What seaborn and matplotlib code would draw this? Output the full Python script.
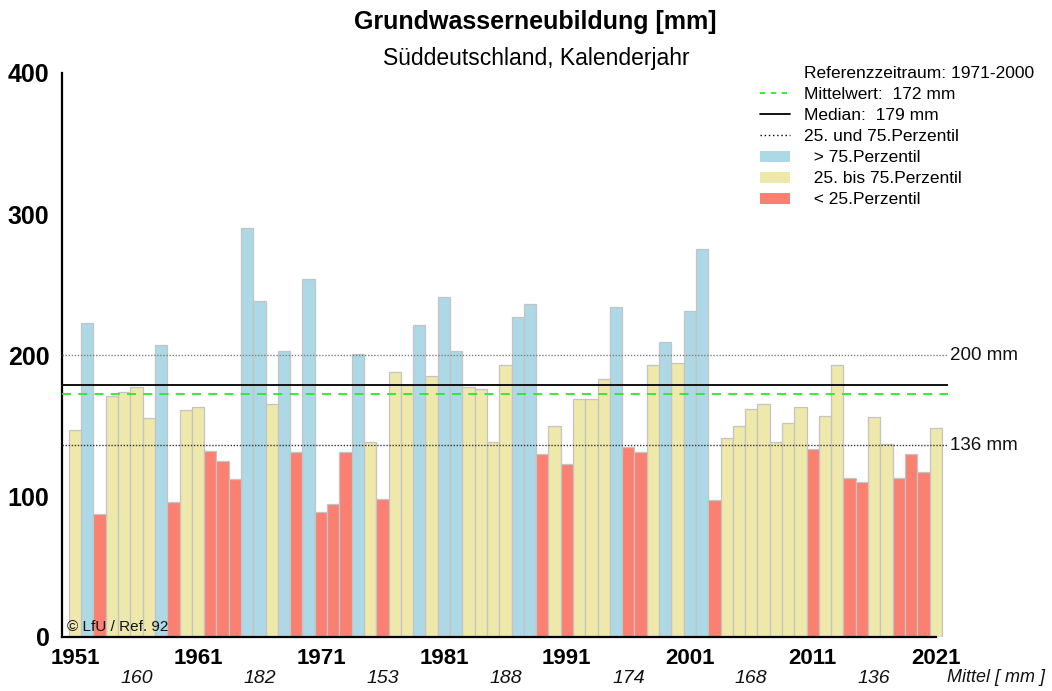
import numpy as np
import pandas as pd
import matplotlib
matplotlib.use("Agg")
import matplotlib.pyplot as plt
import matplotlib.transforms as mtransforms
from matplotlib.lines import Line2D
from matplotlib.patches import Patch
import seaborn as sns

# ---------------- data ----------------
years = list(range(1951, 2022))
values = [
    147, 223, 87, 171, 174, 177, 155, 207, 96, 161,      # 1951-1960
    163, 132, 125, 112, 290, 238, 165, 203, 131, 254,    # 1961-1970
    89, 94, 131, 201, 138, 98, 188, 179, 221, 185,       # 1971-1980
    241, 203, 177, 176, 138, 193, 227, 236, 130, 150,    # 1981-1990
    123, 169, 169, 183, 234, 135, 131, 193, 209, 194,    # 1991-2000
    231, 275, 97, 141, 150, 162, 165, 138, 152, 163,     # 2001-2010
    133, 157, 193, 113, 110, 156, 137, 113, 130, 117,    # 2011-2020
    148,                                                 # 2021
]
mean_ref = 172
median_ref = 179
p25 = 136
p75 = 200
decade_means = ["160", "182", "153", "188", "174", "168", "136"]
tick_years = [1951, 1961, 1971, 1981, 1991, 2001, 2011, 2021]

cls_high = "> 75.Perzentil"
cls_mid = "25. bis 75.Perzentil"
cls_low = "< 25.Perzentil"
palette = {cls_high: "#add8e6", cls_mid: "#eee8aa", cls_low: "#fa8072"}

def classify(v):
    if v > p75:
        return cls_high
    if v < p25:
        return cls_low
    return cls_mid

df = pd.DataFrame({"year": years, "value": values})
df["cls"] = df["value"].apply(classify)

# ---------------- figure ----------------
sns.set_style("white")
plt.rcParams["font.family"] = ["Liberation Sans", "DejaVu Sans"]
plt.rcParams["text.color"] = "black"
plt.rcParams["xtick.color"] = "black"
plt.rcParams["ytick.color"] = "black"
plt.rcParams["axes.labelcolor"] = "black"

fig = plt.figure(figsize=(10.52, 6.91), dpi=100)
ax = fig.add_axes([62 / 1052, 1 - 637 / 691, (948 - 62) / 1052, (637 - 73) / 691])

sns.barplot(data=df, x="year", y="value", hue="cls", order=years,
            palette=palette, saturation=1, dodge=False, width=1.0,
            edgecolor="#c4c4c4", linewidth=0.9, legend=False, ax=ax,
            errorbar=None, zorder=2)

ax.set_xlim(-1.06, 71.0)
ax.set_ylim(0, 400)

# reference lines
ax.axhline(p75, color="#808080", linestyle=(0, (1, 1.2)), linewidth=1.0, zorder=3)
ax.axhline(p25, color="#333333", linestyle=(0, (1, 1.2)), linewidth=1.0, zorder=3)
ax.axhline(median_ref, color="#111111", linestyle="-", linewidth=1.4, zorder=3)
ax.axhline(mean_ref, color="#22ee22", linestyle=(0, (5, 4)), linewidth=1.3, zorder=3)

trans_ay = mtransforms.blended_transform_factory(ax.transAxes, ax.transData)
ax.text(1.002, p75, f"{p75} mm", transform=trans_ay, ha="left", va="center",
        fontsize=13.5, color="#111111")
ax.text(1.002, p25, f"{p25} mm", transform=trans_ay, ha="left", va="center",
        fontsize=13.5, color="#111111")

# axes styling
for s in ["top", "right"]:
    ax.spines[s].set_visible(False)
for s in ["left", "bottom"]:
    ax.spines[s].set_color("black")
    ax.spines[s].set_linewidth(1.6)
ax.spines["bottom"].set_bounds(-1.06, 70)

ax.set_xticks([y - years[0] for y in tick_years])
ax.set_xticklabels([str(y) for y in tick_years], fontsize=16, fontweight="bold")
ax.set_yticks([0, 100, 200, 300, 400])
ax.set_yticklabels(["0", "100", "200", "300", "400"], fontsize=18, fontweight="bold")
ax.tick_params(axis="x", direction="out", length=7, width=1.4, pad=1, colors="black")
ax.tick_params(axis="y", direction="out", length=5, width=1.4, pad=4, colors="black")
ax.set_xlabel("")
ax.set_ylabel("")
ax.grid(False)

# decade means
trans_xa = mtransforms.blended_transform_factory(ax.transData, ax.transAxes)
for i, lab in enumerate(decade_means):
    ax.text(5 + 10 * i, -0.0727, lab, transform=trans_xa, ha="center", va="center",
            fontsize=14, fontstyle="italic", color="#111111")
fig.text(996 / 1052, 1 - 678 / 691, "Mittel [ mm ]", ha="center", va="center",
         fontsize=13, fontstyle="italic", color="#111111")

# copyright
ax.text(0.006, 0.006, "© LfU / Ref. 92", transform=ax.transAxes, ha="left", va="bottom",
        fontsize=11, color="#111111", zorder=5)

# titles
fig.text(535 / 1052, 1 - 22 / 691, "Grundwasserneubildung [mm]", ha="center", va="center",
         fontsize=18, fontweight="bold")
fig.text(536 / 1052, 1 - 58 / 691, "Süddeutschland, Kalenderjahr", ha="center", va="center",
         fontsize=16.5)

# legend
handles = [
    Line2D([], [], linestyle="none"),
    Line2D([], [], color="#22ee22", linestyle=(0, (3, 3)), linewidth=1.3),
    Line2D([], [], color="black", linestyle="-", linewidth=1.3),
    Line2D([], [], color="black", linestyle=(0, (1, 2)), linewidth=1.0),
    Patch(facecolor=palette[cls_high], edgecolor="none"),
    Patch(facecolor=palette[cls_mid], edgecolor="none"),
    Patch(facecolor=palette[cls_low], edgecolor="none"),
]
labels = [
    "Referenzzeitraum: 1971-2000",
    f"Mittelwert:  {mean_ref} mm",
    f"Median:  {median_ref} mm",
    "25. und 75.Perzentil",
    "  > 75.Perzentil",
    "  25. bis 75.Perzentil",
    "  < 25.Perzentil",
]
leg = fig.legend(handles, labels, loc="upper left",
                 bbox_to_anchor=(760 / 1052, 1 - 66 / 691), frameon=False,
                 fontsize=12.5, handlelength=1.75, handleheight=0.6,
                 handletextpad=0.8, labelspacing=0.35, borderaxespad=0,
                 borderpad=0)

fig.savefig("out.png", dpi=100)
